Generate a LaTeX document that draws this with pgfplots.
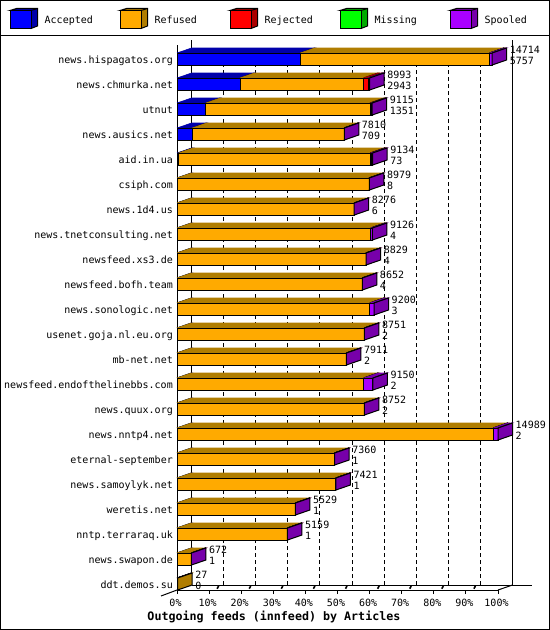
\documentclass[border=0pt]{standalone}
\usepackage{pgfplots}
\pgfplotsset{compat=1.18}
\usepackage{fontspec}
\setmainfont{DejaVu Sans Mono}

\definecolor{acc}{RGB}{0,0,255}
\definecolor{accd}{RGB}{0,0,170}
\definecolor{ref}{RGB}{255,170,0}
\definecolor{refd}{RGB}{176,125,0}
\definecolor{rej}{RGB}{255,0,0}
\definecolor{rejd}{RGB}{170,0,0}
\definecolor{mis}{RGB}{0,255,0}
\definecolor{misd}{RGB}{0,170,0}
\definecolor{spo}{RGB}{170,0,255}
\definecolor{spod}{RGB}{119,0,170}

\newcommand\lab{\fontsize{10bp}{12bp}\selectfont}
% depth of the bars in data units: 14.5 px across, 5 px up
\newcommand\dx{677}
\newcommand\dy{0.2}
\newcommand\hh{0.24}

% one stacked piece {y}{from}{to}{front}{dark}
\newcommand\piece[5]{%
  \addplot[draw=#5,fill=#5,line width=0.6bp] coordinates {(#2,#1+\hh) (#2+\dx,#1+\hh+\dy) (#3+\dx,#1+\hh+\dy) (#3,#1+\hh) (#2,#1+\hh)};
  \addplot[draw=black,line width=1bp] coordinates {(#3,#1+\hh) (#3+\dx,#1+\hh+\dy)};
  \addplot[draw=black,fill=#4,line width=1bp,line cap=rect] coordinates {(#2,#1-\hh) (#2,#1+\hh) (#3,#1+\hh) (#3,#1-\hh) (#2,#1-\hh)};
}
% one feed {y}{total}{accepted}{rejected}{missing}{spooled}{side colour}
\newcommand\feed[7]{%
  \pgfmathsetmacro\xa{#3}
  \pgfmathsetmacro\xd{#2}
  \pgfmathsetmacro\xc{\xd-#6}
  \pgfmathsetmacro\xm{\xc-#5}
  \pgfmathsetmacro\xr{\xm-#4}
  \piece{#1}{0}{\xa}{acc}{accd}
  \piece{#1}{\xa}{\xr}{ref}{refd}
  \piece{#1}{\xr}{\xm}{rej}{rejd}
  \piece{#1}{\xm}{\xc}{mis}{misd}
  \piece{#1}{\xc}{\xd}{spo}{spod}
  \addplot[draw=black,fill=#7,line width=1bp,line cap=rect] coordinates {(\xd,#1-\hh) (\xd,#1+\hh) (\xd+\dx,#1+\hh+\dy) (\xd+\dx,#1-\hh+\dy) (\xd,#1-\hh)};
  \node[anchor=west,inner sep=0pt,font=\lab,xshift=17.5bp,yshift=9bp] at (axis cs:#2,#1) {#2};
  \node[anchor=west,inner sep=0pt,font=\lab,xshift=17.5bp,yshift=-2bp] at (axis cs:#2,#1) {#3};
}
% legend swatch {left px}{front}{dark}{text}
\newcommand\swatch[4]{%
  \draw[line width=1bp,fill=#3] (#1,10.5) -- (#1+6.5,8.5) -- (#1+27.5,8.5) -- (#1+27.5,26) -- (#1+21,28.5) -- (#1+21,10.5) -- cycle;
  \draw[line width=1bp,fill=#2] (#1,10.5) rectangle (#1+21,28.5);
  \draw[line width=1bp] (#1+21,10.5) -- (#1+27.5,8.5);
  \node[anchor=base west,inner sep=0pt,font=\lab] at (#1+34.5,24) {#4};
}

\begin{document}
\begin{tikzpicture}
\begin{axis}[
  at={(177bp,-590bp)}, anchor=south west,
  scale only axis, width=321bp, height=545bp,
  xmin=0, xmax=14989, ymin=-0.24, ymax=21.56,
  axis lines=left, axis line style={-,line width=1bp},
  clip=false,
  scaled x ticks=false,
  xtick={0,1498.9,2997.8,4496.7,5995.6,7494.5,8993.4,10492.3,11991.2,13490.1,14989},
  xticklabels={0\%,10\%,20\%,30\%,40\%,50\%,60\%,70\%,80\%,90\%,100\%},
  xtick style={black,line width=1bp},
  tick align=outside, major tick length=4bp,
  xticklabel style={font=\lab,inner sep=0pt,xshift=-1.5bp,yshift=-5bp},
  ytick={0,...,21},
  yticklabels={ddt.demos.su,news.swapon.de,nntp.terraraq.uk,weretis.net,news.samoylyk.net,eternal-september,news.nntp4.net,news.quux.org,newsfeed.endofthelinebbs.com,mb-net.net,usenet.goja.nl.eu.org,news.sonologic.net,newsfeed.bofh.team,newsfeed.xs3.de,news.tnetconsulting.net,news.1d4.us,csiph.com,aid.in.ua,news.ausics.net,utnut,news.chmurka.net,news.hispagatos.org},
  ytick style={draw=none},
  yticklabel style={font=\lab,inner sep=0pt,text height=9bp,text depth=0.4bp},
  xlabel={Outgoing feeds (innfeed) by Articles},
  xlabel style={at={(axis description cs:0.302,-0.0495)},anchor=center,inner sep=0pt,font=\fontsize{11.67bp}{14bp}\selectfont\bfseries},
]
% back wall
\addplot[black,line width=1bp] coordinates {(\dx,-0.04) (\dx,21.76)};
\addplot[black,line width=1bp] coordinates {(14989+\dx,-0.04) (14989+\dx,21.76)};
\addplot[black,line width=1bp] coordinates {(\dx,-0.04) (16578,-0.04)};
\addplot[black,line width=1bp] coordinates {(14989,-0.24) (14989+\dx,-0.04)};
\addplot[black,line width=1bp] coordinates {(0,-0.24) (-747,-0.48)};
\pgfplotsinvokeforeach{1498.9,2997.8,4496.7,5995.6,7494.5,8993.4,10492.3,11991.2,13490.1}{
  \addplot[black,line width=1bp,dash pattern=on 4bp off 3bp] coordinates {(#1+\dx,-0.04) (#1+\dx,21.4)};
  \addplot[black,line width=1.6bp] coordinates {(#1+374,-0.188) (#1+444,-0.08)};
}
% y, total, accepted, rejected, missing, spooled, side
\feed{21}{14714}{5757}{0}{0}{110}{spod}
\feed{20}{8993}{2943}{205}{0}{70}{spod}
\feed{19}{9115}{1351}{50}{20}{30}{spod}
\feed{18}{7810}{709}{0}{0}{1}{spod}
\feed{17}{9134}{73}{40}{0}{70}{spod}
\feed{16}{8979}{8}{0}{0}{10}{spod}
\feed{15}{8276}{6}{0}{0}{1}{spod}
\feed{14}{9126}{4}{0}{0}{70}{spod}
\feed{13}{8829}{4}{0}{0}{1}{spod}
\feed{12}{8652}{4}{0}{0}{1}{spod}
\feed{11}{9200}{3}{0}{0}{190}{spod}
\feed{10}{8751}{2}{0}{0}{1}{spod}
\feed{9}{7911}{2}{0}{0}{1}{spod}
\feed{8}{9150}{2}{0}{0}{420}{spod}
\feed{7}{8752}{2}{0}{0}{1}{spod}
\feed{6}{14989}{2}{0}{0}{215}{spod}
\feed{5}{7360}{1}{0}{0}{1}{spod}
\feed{4}{7421}{1}{0}{0}{1}{spod}
\feed{3}{5529}{1}{0}{0}{1}{spod}
\feed{2}{5159}{1}{0}{0}{1}{spod}
\feed{1}{672}{1}{0}{0}{1}{spod}
\feed{0}{27}{0}{0}{0}{0}{refd}
\end{axis}
\begin{scope}[x=1bp,y=-1bp]
\path[use as bounding box] (0,0) rectangle (550,630);
\draw[line width=1bp] (0.5,0.5) rectangle (549.5,629.5);
\draw[line width=1bp] (0,35.5) -- (550,35.5);
\swatch{10}{acc}{accd}{Accepted}
\swatch{120}{ref}{refd}{Refused}
\swatch{230}{rej}{rejd}{Rejected}
\swatch{340}{mis}{misd}{Missing}
\swatch{450}{spo}{spod}{Spooled}
\end{scope}
\end{tikzpicture}
\end{document}
